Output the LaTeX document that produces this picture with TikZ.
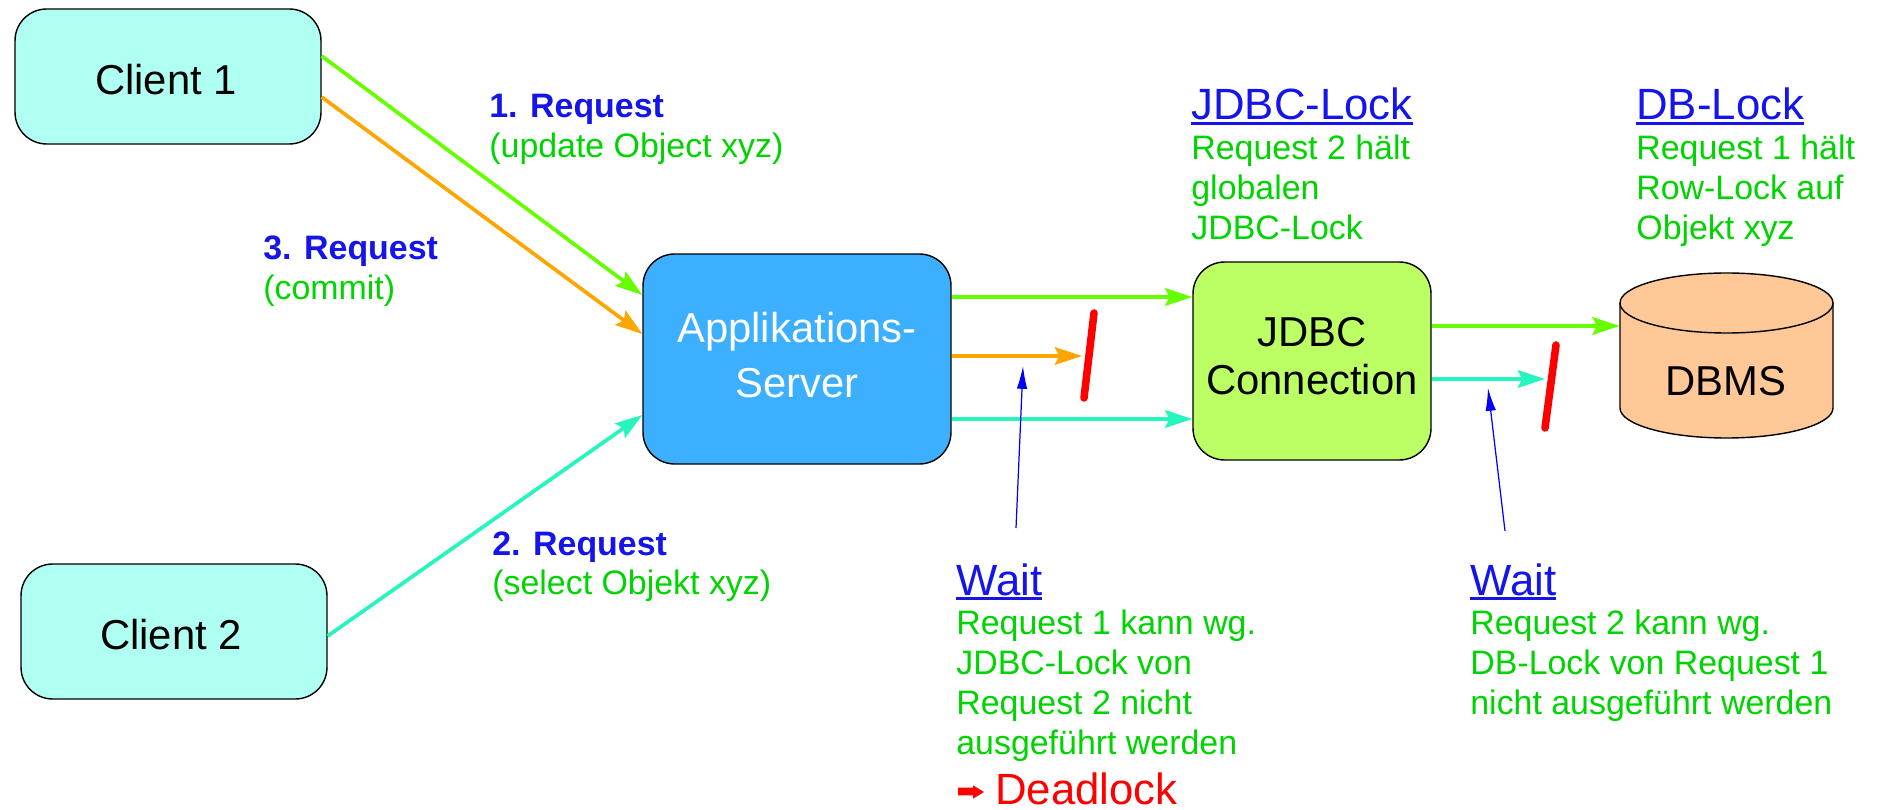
\documentclass[tikz,border=0pt]{standalone}
\usepackage{fontspec}
\setmainfont{Liberation Sans}
\usetikzlibrary{arrows.meta}

\definecolor{clientfill}{RGB}{175,255,242}
\definecolor{appfill}{RGB}{60,175,255}
\definecolor{jdbcfill}{RGB}{187,255,100}
\definecolor{dbfill}{RGB}{255,200,150}
\definecolor{arrgreen}{RGB}{102,255,0}
\definecolor{arrorange}{RGB}{255,165,0}
\definecolor{arrcyan}{RGB}{38,245,190}
\definecolor{txtgreen}{RGB}{0,212,0}
\definecolor{txtblue}{RGB}{20,20,235}
\definecolor{ptrblue}{RGB}{0,0,255}

% font sizes (1 unit = 0.02cm)
\newcommand\fsBox{\fontsize{23.8pt}{27.2pt}\selectfont}
\newcommand\fsSmall{\fontsize{19.3pt}{22.68pt}\selectfont}
\newcommand\fsHead{\fontsize{24.9pt}{22.68pt}\selectfont}
% underlined heading with a thicker rule
\newcommand\ulhead[1]{\setbox0=\hbox{#1}\rlap{\rule[-2.6pt]{\wd0}{1.6pt}}\box0}
% stacked lines, baseline at the first line
\newcommand\rows[1]{\begin{tabular}[t]{@{}l@{}}#1\end{tabular}}
\newcommand\crows[1]{\begin{tabular}[t]{@{}c@{}}#1\end{tabular}}

\begin{document}
\begin{tikzpicture}[x=0.02cm,y=-0.02cm,
  box/.style={draw=black,line width=0.8pt,rounded corners=18pt,inner sep=0pt},
  flow/.style={line width=2.1pt,-{Stealth[length=15.5pt,width=10pt,inset=2.5pt]}},
  pointer/.style={draw=ptrblue,line width=0.7pt,-{Latex[length=13pt,width=6pt]}},
  barrier/.style={red,line width=4.3pt,line cap=round},
  txt/.style={inner sep=0pt,anchor=base west,font=\fsSmall},
  boxtxt/.style={inner sep=0pt,anchor=base,font=\fsBox}]

\useasboundingbox (0,0) rectangle (1879,810);

% components
\node[box,fill=clientfill,minimum width=6.12cm,minimum height=2.7cm] (client1) at (168,76.5) {};
\node[box,fill=clientfill,minimum width=6.12cm,minimum height=2.7cm] (client2) at (174,631.5) {};
\node[box,fill=appfill,minimum width=6.16cm,minimum height=4.2cm] (app) at (797,359) {};
\node[box,fill=jdbcfill,minimum width=4.76cm,minimum height=3.96cm] (jdbc) at (1312,361) {};
\node[inner sep=0pt,minimum width=4.26cm,minimum height=3.32cm] (dbms) at (1726.5,355) {};

% database cylinder
\fill[dbfill] (1620,303) -- (1620,408) arc[start angle=180,end angle=0,x radius=106.5,y radius=30] -- (1833,303) -- cycle;
\draw[line width=0.8pt] (1620,303) -- (1620,408) arc[start angle=180,end angle=0,x radius=106.5,y radius=30] -- (1833,303);
\draw[fill=dbfill,line width=0.8pt] (1726.5,303) ellipse[x radius=106.5,y radius=30];

% component labels
\node[boxtxt] (client1txt) at (166,95) {Client 1};
\node[boxtxt] (client2txt) at (171,649) {Client 2};
\node[boxtxt,text=white,font=\fontsize{23.8pt}{31.2pt}\selectfont] (apptxt) at (797,343) {\crows{Applikations-\\Server}};
\node[boxtxt] (jdbctxt) at (1312,347) {\crows{JDBC\\Connection}};
\node[boxtxt] (dbmstxt) at (1725.5,396) {DBMS};

% request flows
\draw[flow,arrgreen] (client1.east |- 0,56) -- (app.west |- 0,295);
\draw[flow,arrorange] (client1.east |- 0,97) -- (app.west |- 0,334);
\draw[flow,arrcyan] (client2.east |- 0,636) -- (app.west |- 0,415);
\draw[flow,arrgreen] (app.east |- 0,297) -- (jdbc.west |- 0,297);
\coordinate (haltA) at (1082,356);
\draw[flow,arrorange] (app.east |- 0,356) -- (haltA);
\draw[flow,arrcyan] (app.east |- 0,419) -- (jdbc.west |- 0,419);
\draw[flow,arrgreen] (jdbc.east |- 0,326) -- (dbms.west |- 0,326);
\coordinate (haltB) at (1545,379);
\draw[flow,arrcyan] (jdbc.east |- 0,379) -- (haltB);

% blocked requests
\coordinate (barA1) at (1094,313);
\coordinate (barA2) at (1084,398);
\draw[barrier] (barA1) -- (barA2);
\coordinate (barB1) at (1556,345);
\coordinate (barB2) at (1545,428);
\draw[barrier] (barB1) -- (barB2);

% wait pointers
\coordinate (waitAfoot) at (1016,528);
\coordinate (waitAtip) at (1023,366);
\draw[pointer] (waitAfoot) -- (waitAtip);
\coordinate (waitBfoot) at (1505,531);
\coordinate (waitBtip) at (1488,388);
\draw[pointer] (waitBfoot) -- (waitBtip);

% request labels
\node[txt] (req1) at (489,118) {\rows{\textcolor{txtblue}{\bfseries 1. Request}\\\textcolor{txtgreen}{(update Object xyz)}}};
\node[txt] (req3) at (263,260) {\rows{\textcolor{txtblue}{\bfseries 3. Request}\\\textcolor{txtgreen}{(commit)}}};
\node[txt] (req2) at (492,555) {\rows{\textcolor{txtblue}{\bfseries 2. Request}\\\textcolor{txtgreen}{(select Objekt xyz)}}};

% lock notes
\node[txt] (jdbclock) at (1191,120) {\rows{\textcolor{txtblue}{\fsHead\ulhead{JDBC-Lock}}\\
  \textcolor{txtgreen}{Request 2 hält}\\\textcolor{txtgreen}{globalen}\\\textcolor{txtgreen}{JDBC-Lock}}};
\node[txt] (dblock) at (1636,120) {\rows{\textcolor{txtblue}{\fsHead\ulhead{DB-Lock}}\\
  \textcolor{txtgreen}{Request 1 hält}\\\textcolor{txtgreen}{Row-Lock auf}\\\textcolor{txtgreen}{Objekt xyz}}};
\node[txt] (waitjdbc) at (956,595) {\rows{\textcolor{txtblue}{\fsHead\ulhead{Wait}}\\
  \textcolor{txtgreen}{Request 1 kann wg.}\\\textcolor{txtgreen}{JDBC-Lock von}\\
  \textcolor{txtgreen}{Request 2 nicht}\\\textcolor{txtgreen}{ausgeführt werden}}};
\node[txt] (waitdb) at (1470,595) {\rows{\textcolor{txtblue}{\fsHead\ulhead{Wait}}\\
  \textcolor{txtgreen}{Request 2 kann wg.}\\\textcolor{txtgreen}{DB-Lock von Request 1}\\
  \textcolor{txtgreen}{nicht ausgeführt werden}}};

% conclusion
\fill[red] (958,787.7) -- (973,787.7) -- (973,785.3) -- (984,792) -- (973,798.7) -- (973,795.3) -- (958,795.3) -- cycle;
\node[txt,font=\fsHead,text=red] (deadlock) at (995,804) {Deadlock};
\end{tikzpicture}
\end{document}
